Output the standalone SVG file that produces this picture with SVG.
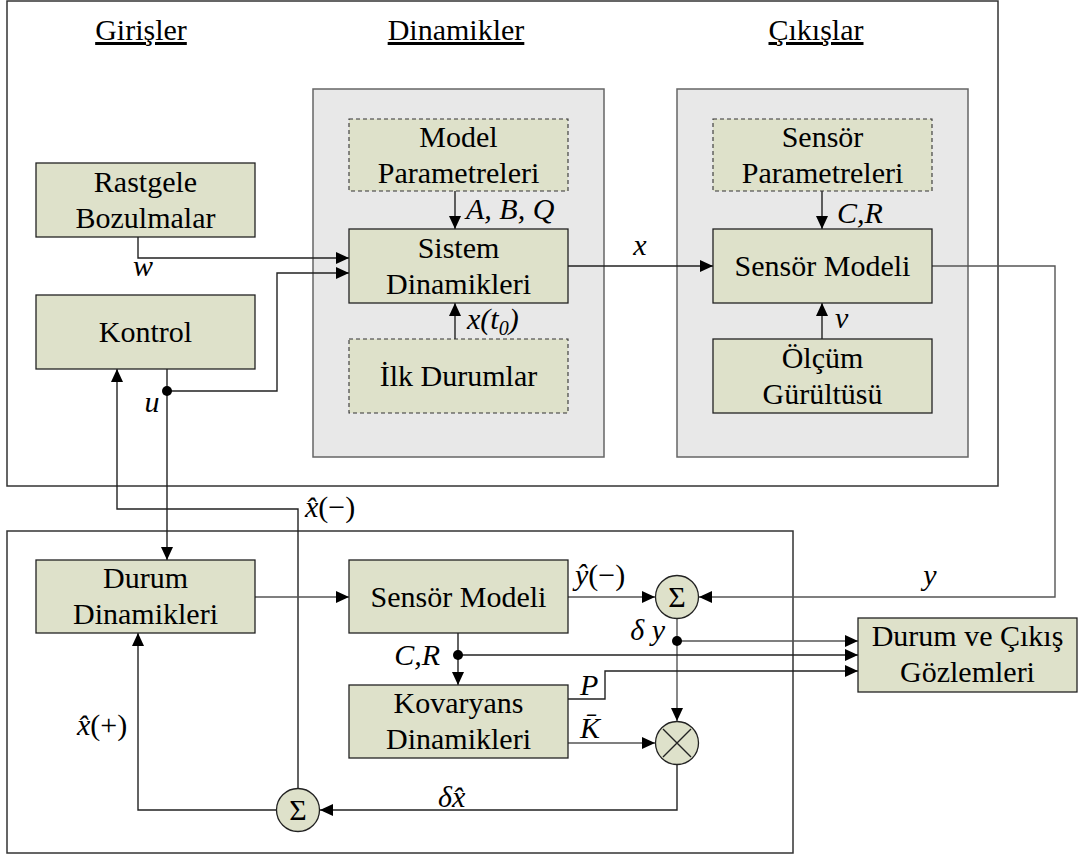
<svg xmlns="http://www.w3.org/2000/svg" width="1081" height="857" viewBox="0 0 1081 857" font-family="'Liberation Serif', 'DejaVu Serif', serif">
<style>
.frame{fill:#ffffff;stroke:#333333;stroke-width:1.5}
.panel{fill:#e8e8e8;stroke:#666666;stroke-width:1.5}
.node{fill:#dee1ca;stroke:#222222;stroke-width:1.3}
.dash{fill:#dee1ca;stroke:#333333;stroke-width:1.1;stroke-dasharray:4,3}
.t{font-family:'Liberation Serif','DejaVu Serif',serif;font-size:30px;fill:#000;text-anchor:middle}
.h{font-family:'Liberation Serif','DejaVu Serif',serif;font-size:30px;fill:#000;text-anchor:middle;text-decoration:underline}
.l{font-family:'Liberation Serif','DejaVu Serif',serif;font-size:30px;font-style:italic;fill:#000}
.c{fill:none;stroke:#222222;stroke-width:1.4}
.g{fill:none;stroke:#555555;stroke-width:1.4}
.dot{fill:#000}
</style>
<defs>
<marker id="ah" markerUnits="userSpaceOnUse" markerWidth="14" markerHeight="12" refX="13" refY="6" orient="auto">
<path d="M0,0 L13,6 L0,12 z" fill="#000"/>
</marker>
</defs>
<rect width="1081" height="857" fill="#ffffff"/>
<rect class="frame" x="7" y="1" width="991" height="485"/>
<rect class="frame" x="7" y="531" width="786" height="322"/>
<rect class="panel" x="313" y="89" width="291" height="368"/>
<rect class="panel" x="677" y="89" width="291" height="368"/>
<text class="h" x="141" y="40">Girişler</text>
<text class="h" x="456" y="40">Dinamikler</text>
<text class="h" x="816" y="40">Çıkışlar</text>

<g id="connectors">
<path class="c" d="M138,237 V258 H349" marker-end="url(#ah)"/>
<path class="c" d="M167,369 V560" marker-end="url(#ah)"/>
<path class="c" d="M167,391 H277 V273 H349" marker-end="url(#ah)"/>
<circle class="dot" cx="167" cy="391" r="5"/>
<path class="c" d="M455,191 V229" marker-end="url(#ah)"/>
<path class="c" d="M455,339 V303" marker-end="url(#ah)"/>
<path class="c" d="M568,266 H713" marker-end="url(#ah)"/>
<path class="c" d="M822,191 V229" marker-end="url(#ah)"/>
<path class="c" d="M822,339 V303" marker-end="url(#ah)"/>
<path class="g" d="M932,266 H1055 V597 H699" marker-end="url(#ah)"/>
<path class="c" d="M298,788 V509 H117 V369" marker-end="url(#ah)"/>
<path class="g" d="M255,597 H349" marker-end="url(#ah)"/>
<path class="g" d="M568,597 H655" marker-end="url(#ah)"/>
<path class="g" d="M677,619 V721" marker-end="url(#ah)"/>
<path class="g" d="M677,641 H858" marker-end="url(#ah)"/>
<circle class="dot" cx="677" cy="641" r="5"/>
<path class="c" d="M458,633 V685" marker-end="url(#ah)"/>
<path class="c" d="M458,655 H858" marker-end="url(#ah)"/>
<circle class="dot" cx="458" cy="655" r="5"/>
<path class="c" d="M568,699 H605 V671 H858" marker-end="url(#ah)"/>
<path class="g" d="M568,743 H655" marker-end="url(#ah)"/>
<path class="c" d="M677,765 V810 H320" marker-end="url(#ah)"/>
<path class="c" d="M276,810 H138 V633" marker-end="url(#ah)"/>
<text class="l" x="143" y="276" text-anchor="middle">w</text>
<text class="l" x="152" y="412" text-anchor="middle">u</text>
<text class="l" x="640" y="255" text-anchor="middle">x</text>
<text class="l" x="466" y="219">A, B, Q</text>
<text class="l" x="467" y="329">x(t<tspan font-size="20" dy="6">0</tspan><tspan dy="-6">)</tspan></text>
<text class="l" x="837" y="223">C,R</text>
<text class="l" x="835" y="328">v</text>
<text class="l" x="930" y="585" text-anchor="middle">y</text>
<text class="l" x="305" y="517">x̂<tspan font-style="normal">(−)</tspan></text>
<text class="l" x="575" y="585">ŷ<tspan font-style="normal">(−)</tspan></text>
<text class="l" x="665" y="640" text-anchor="end">δ y</text>
<text class="l" x="440" y="665" text-anchor="end">C,R</text>
<text class="l" x="580" y="695">P</text>
<text class="l" x="580" y="738">K̄</text>
<text class="l" x="438" y="807">δx̂</text>
<text class="l" x="77" y="735">x̂<tspan font-style="normal">(+)</tspan></text>
</g>

<g id="rastgele"><rect class="node" x="36" y="163" width="219" height="74"/><text class="t" x="145.5" y="192">Rastgele</text><text class="t" x="145.5" y="228">Bozulmalar</text></g>
<g id="kontrol"><rect class="node" x="36" y="295" width="219" height="74"/><text class="t" x="145.5" y="342">Kontrol</text></g>
<g id="model-param"><rect class="dash" x="349" y="119" width="219" height="72"/><text class="t" x="458.5" y="147">Model</text><text class="t" x="458.5" y="183">Parametreleri</text></g>
<g id="sistem"><rect class="node" x="349" y="229" width="219" height="74"/><text class="t" x="458.5" y="258">Sistem</text><text class="t" x="458.5" y="294">Dinamikleri</text></g>
<g id="ilk"><rect class="dash" x="349" y="339" width="219" height="74"/><text class="t" x="458.5" y="386">İlk Durumlar</text></g>
<g id="sensor-param"><rect class="dash" x="713" y="119" width="219" height="72"/><text class="t" x="822.5" y="147">Sensör</text><text class="t" x="822.5" y="183">Parametreleri</text></g>
<g id="sensor-top"><rect class="node" x="713" y="229" width="219" height="74"/><text class="t" x="822.5" y="276">Sensör Modeli</text></g>
<g id="olcum"><rect class="node" x="713" y="339" width="219" height="74"/><text class="t" x="822.5" y="368">Ölçüm</text><text class="t" x="822.5" y="404">Gürültüsü</text></g>
<g id="durum"><rect class="node" x="36" y="560" width="219" height="73"/><text class="t" x="145.5" y="588">Durum</text><text class="t" x="145.5" y="624">Dinamikleri</text></g>
<g id="sensor-bottom"><rect class="node" x="349" y="560" width="219" height="73"/><text class="t" x="458.5" y="607">Sensör Modeli</text></g>
<g id="kovaryans"><rect class="node" x="349" y="685" width="219" height="73"/><text class="t" x="458.5" y="713">Kovaryans</text><text class="t" x="458.5" y="749">Dinamikleri</text></g>
<g id="gozlem"><rect class="node" x="858" y="618" width="219" height="74"/><text class="t" x="967.5" y="646">Durum ve Çıkış</text><text class="t" x="967.5" y="682">Gözlemleri</text></g>
<g id="sum-top"><circle class="node" cx="677" cy="597" r="21.5"/><text class="t" x="677" y="607" font-size="30">Σ</text></g>
<g id="mult"><circle class="node" cx="677" cy="743" r="21.5"/><path d="M663,729 L691,757 M691,729 L663,757" stroke="#222" stroke-width="1.4"/></g>
<g id="sum-bottom"><circle class="node" cx="298" cy="810" r="21.5"/><text class="t" x="298" y="820" font-size="30">Σ</text></g>
</svg>
